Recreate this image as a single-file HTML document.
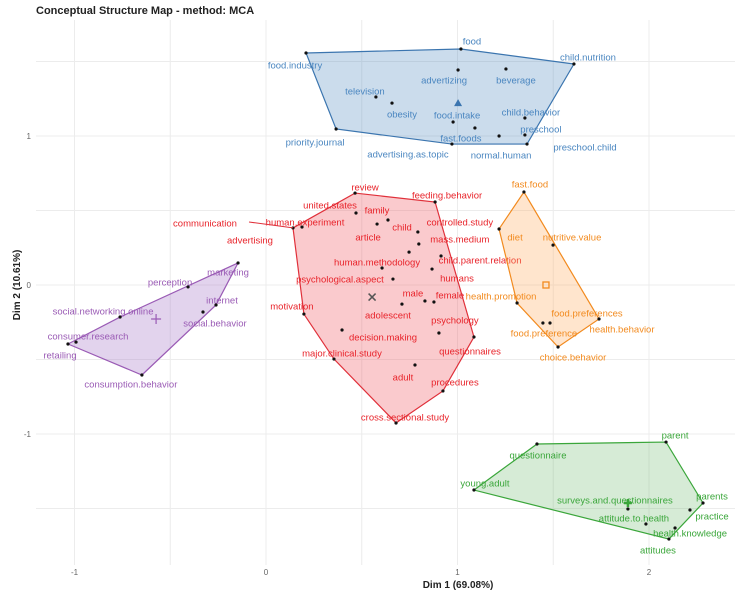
<!DOCTYPE html>
<html><head><meta charset="utf-8"><style>
body{margin:0;background:#fff;}
svg{display:block;font-family:"Liberation Sans",sans-serif;}
</style></head><body>
<svg id="chart" width="737" height="593" xmlns="http://www.w3.org/2000/svg">
<text x="36" y="14" font-size="11" font-weight="bold" fill="#222">Conceptual Structure Map - method: MCA</text>
<g id="grid"></g>
<g id="axes"></g>
<g id="clusters"></g>
<text x="458" y="588" font-size="10" font-weight="bold" text-anchor="middle" fill="#222">Dim 1 (69.08%)</text>
<text transform="translate(20,285) rotate(-90)" font-size="10" font-weight="bold" text-anchor="middle" fill="#222">Dim 2 (10.61%)</text>
</svg>
<script>
const xTicks = [-1, 0, 1, 2];
const yTicks = [1, 0, -1];
const xMinor = [-0.5, 0.5, 1.5];
const yMinor = [1.5, 0.5, -0.5, -1.5];

const blueNames = ["food","child.nutrition","food.industry","priority.journal","advertizing","beverage","television","obesity","food.intake","fast.foods","normal.human","child.behavior","preschool","advertising.as.topic","preschool.child"];
const blueX = [1.018,1.608,0.209,0.366,1.003,1.253,0.574,0.658,0.977,1.091,1.217,1.352,1.352,0.971,1.363];
const blueY = [1.584,1.483,1.557,1.047,1.443,1.450,1.262,1.221,1.094,1.054,1.0,1.121,1.007,0.946,0.946];
const blueCentroid = [1.003,1.221];

const redNames = ["review","feeding.behavior","united.states","family","article","child","controlled.study","mass.medium","advertising","human.experiment","child.parent.relation","human.methodology","psychological.aspect","humans","male","female","adolescent","motivation","psychology","questionnaires","decision.making","major.clinical.study","adult","procedures","cross.sectional.study"];
const redX = [0.465,0.883,0.470,0.637,0.580,0.747,0.793,0.798,0.141,0.188,0.914,0.606,0.663,0.867,0.830,0.877,0.710,0.198,0.903,1.086,0.397,0.355,0.778,0.924,0.679];
const redY = [0.617,0.557,0.483,0.436,0.409,0.221,0.356,0.275,0.383,0.389,0.195,0.114,0.040,0.107,-0.107,-0.114,-0.128,-0.195,-0.322,-0.349,-0.302,-0.497,-0.537,-0.711,-0.926];
const redCentroid = [0.554,-0.081];

const purpleNames = ["perception","marketing","internet","social.behavior","social.networking.online","consumer.research","retailing","consumption.behavior"];
const purpleX = [-0.407,-0.146,-0.261,-0.329,-0.762,-0.992,-1.034,-0.648];
const purpleY = [-0.013,0.148,-0.134,-0.181,-0.215,-0.383,-0.396,-0.604];
const purpleCentroid = [-0.574,-0.228];

const orangeNames = ["fast.food","diet","nutritive.value","health.promotion","food.preferences","food.preference","health.behavior","choice.behavior"];
const orangeX = [1.347,1.217,1.499,1.311,1.483,1.446,1.739,1.525];
const orangeY = [0.624,0.376,0.268,-0.121,-0.255,-0.255,-0.228,-0.416];
const orangeCentroid = [1.462,0.0];

const greenNames = ["questionnaire","parent","parents","practice","health.knowledge","attitudes","attitude.to.health","surveys.and.questionnaires","young.adult"];
const greenX = [1.415,2.089,2.282,2.214,2.136,2.104,1.984,1.890,1.086];
const greenY = [-1.067,-1.054,-1.463,-1.510,-1.631,-1.705,-1.604,-1.503,-1.376];
const greenCentroid = [1.890,-1.463];

// layout: label pixel offsets
const blueOff = [[11,-8],[14,-7],[-11,12],[-21,13],[-14,10],[10,11],[-11,-6],[10,11],[4,-7],[-14,10],[2,19],[6,-6],[16,-6],[-44,10],[58,3]];
const redOff = [[10,-6],[12,-7],[-26,-8],[-11,-10],[-9,13],[-7,-25],[42,-10],[41,-5],[-43,12],[3,-5],[39,4],[-5,-6],[-53,0],[25,9],[-12,-8],[16,-7],[-14,11],[-12,-8],[16,-13],[-4,14],[41,7],[8,-6],[-12,12],[12,-9],[9,-6]];
const purpleOff = [[-18,-5],[-10,9],[6,-5],[12,11],[-17,-6],[12,-6],[-8,11],[-11,9]];
const orangeOff = [[6,-8],[16,8],[19,-8],[-16,-7],[37,-10],[1,10],[23,10],[15,10]];
const greenOff = [[1,11],[9,-7],[9,-7],[22,6],[15,5],[-11,11],[-12,-6],[-13,-9],[11,-7]];

const xs = v => 266 + v*191.5;
const ys = v => 285 - v*149;
const NS = "http://www.w3.org/2000/svg";
function mk(tag, attrs, parent){const e=document.createElementNS(NS,tag);for(const k in attrs)e.setAttribute(k,attrs[k]);parent.appendChild(e);return e;}

const grid=document.getElementById('grid'), axes=document.getElementById('axes'), cl=document.getElementById('clusters');
xMinor.concat(xTicks).forEach(t=>{const l=mk('line',{x1:xs(t),x2:xs(t),y1:20,y2:565,stroke:'#ececec','stroke-width':1},grid);

});
yMinor.concat(yTicks).forEach(t=>{const l=mk('line',{x1:36,x2:735,y1:ys(t),y2:ys(t),stroke:'#ececec','stroke-width':1},grid);

});
xTicks.forEach(t=>{const e=mk('text',{x:xs(t),y:575,'font-size':8,fill:'#666','text-anchor':'middle'},axes);e.textContent=String(t);

});
yTicks.forEach(t=>{const e=mk('text',{x:31,y:ys(t)+3,'font-size':8,fill:'#666','text-anchor':'end'},axes);e.textContent=String(t);

});

function hull(pts){pts=pts.slice().sort((a,b)=>a[0]-b[0]||a[1]-b[1]);const cr=(o,a,b)=>(a[0]-o[0])*(b[1]-o[1])-(a[1]-o[1])*(b[0]-o[0]);
const lo=[];for(const p of pts){while(lo.length>=2&&cr(lo[lo.length-2],lo[lo.length-1],p)<=0)lo.pop();lo.push(p);}
const up=[];for(const p of pts.slice().reverse()){while(up.length>=2&&cr(up[up.length-2],up[up.length-1],p)<=0)up.pop();up.push(p);}
return lo.slice(0,-1).concat(up.slice(0,-1));}

function cluster(name,names,X,Y,off,cen,col,stroke,fill,marker){
 const g=mk('g',{},cl);
 
 
 const pts=X.map((x,i)=>[xs(x),ys(Y[i])]);
 const h=hull(pts);
 const poly=mk('polygon',{points:h.map(p=>p.join(',')).join(' '),fill:fill,stroke:stroke,'stroke-width':1.2},g);
 
 
 pts.forEach((p,i)=>{
  const c=mk('circle',{cx:p[0],cy:p[1],r:1.6,fill:'#111'},g);
  
  
  const t=mk('text',{x:p[0]+off[i][0],y:p[1]+off[i][1]+3.5,'font-size':9.5,fill:col,'text-anchor':'middle'},g);
  t.textContent=names[i];
  
  
 });
 const cx=xs(cen[0]),cy=ys(cen[1]);
 let m;
 if(marker==='tri') m=mk('polygon',{points:`${cx},${cy-4} ${cx-4},${cy+3} ${cx+4},${cy+3}`,fill:stroke},g);
 else if(marker==='x') m=mk('path',{d:`M${cx-3.5},${cy-3.5}L${cx+3.5},${cy+3.5}M${cx-3.5},${cy+3.5}L${cx+3.5},${cy-3.5}`,stroke:'#555','stroke-width':1.5},g);
 else if(marker==='plus') m=mk('path',{d:`M${cx-5},${cy}L${cx+5},${cy}M${cx},${cy-5}L${cx},${cy+5}`,stroke:stroke,'stroke-width':1.2},g);
 else if(marker==='sq') m=mk('rect',{x:cx-3,y:cy-3,width:6,height:6,fill:'none',stroke:stroke,'stroke-width':1.3},g);
 else m=mk('path',{d:`M${cx-4},${cy}L${cx+4},${cy}M${cx},${cy-4}L${cx},${cy+4}`,stroke:stroke,'stroke-width':2.5},g);
 
 
 return g;
}
cluster('blue',blueNames,blueX,blueY,blueOff,blueCentroid,'#4a86c0','#3b75af','rgba(70,130,185,0.28)','tri');
const rg=cluster('red',redNames,redX,redY,redOff,redCentroid,'#e8232a','#e0303a','rgba(240,90,100,0.32)','x');
cluster('purple',purpleNames,purpleX,purpleY,purpleOff,purpleCentroid,'#9a5bb5','#9a5bb5','rgba(160,110,195,0.3)','plus');
cluster('orange',orangeNames,orangeX,orangeY,orangeOff,orangeCentroid,'#f28a1e','#f28a1e','rgba(255,170,90,0.3)','sq');
cluster('green',greenNames,greenX,greenY,greenOff,greenCentroid,'#3aa63a','#3aa63a','rgba(90,175,90,0.25)','gsq');
const ai=redNames.indexOf('advertising');
const seg=mk('line',{x1:249,y1:222,x2:xs(redX[ai]),y2:ys(redY[ai]),stroke:'#e0303a','stroke-width':1},rg);


const ct=mk('text',{x:205,y:226.5,'font-size':9.5,fill:'#e8232a','text-anchor':'middle'},rg);
ct.textContent='communication';


</script>
</body></html>
